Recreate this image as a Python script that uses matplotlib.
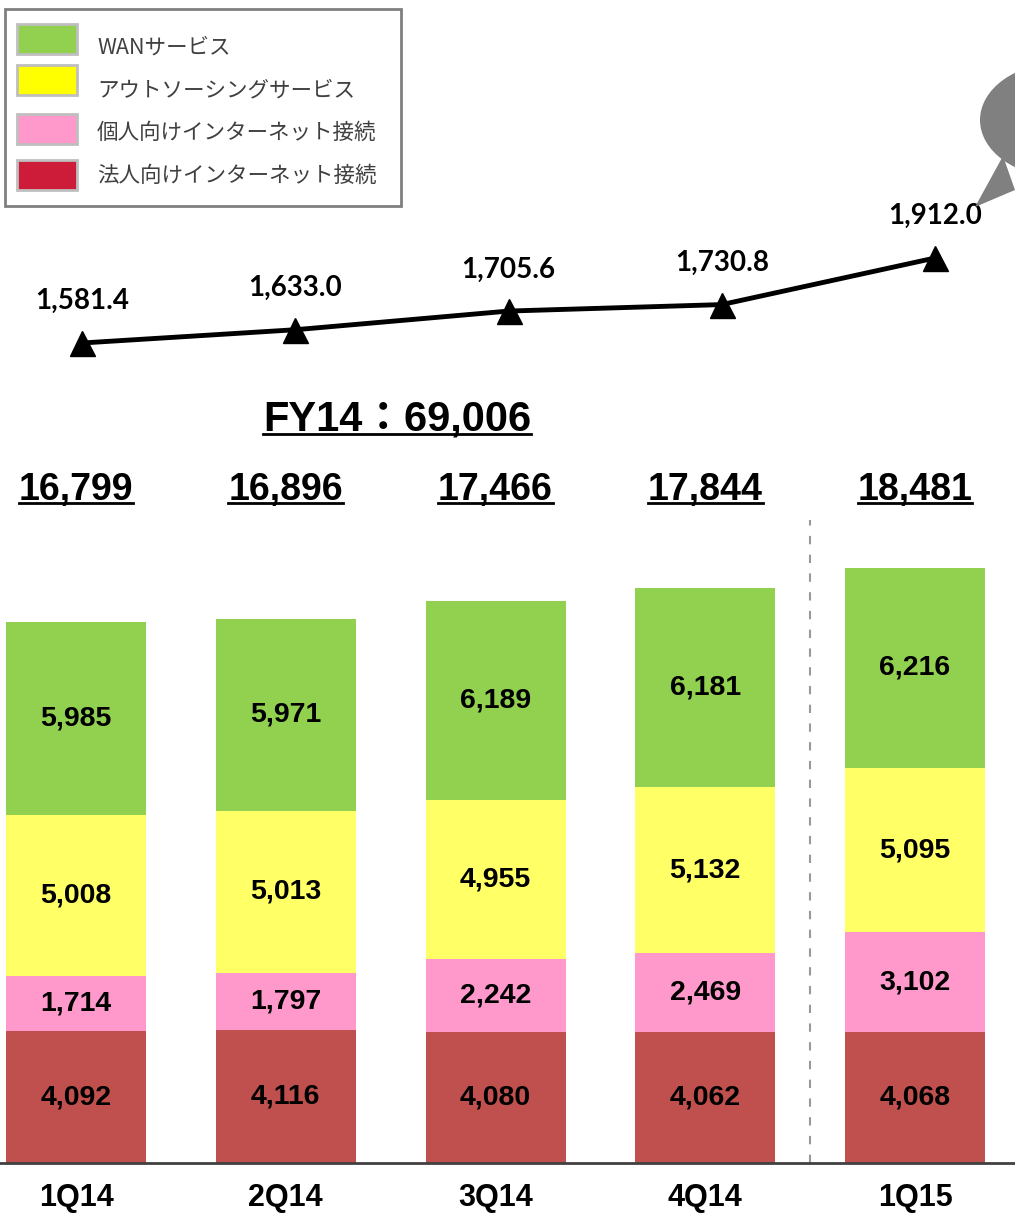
import matplotlib
matplotlib.use("Agg")
import matplotlib.pyplot as plt
from matplotlib.patches import Ellipse, Polygon, Rectangle
from matplotlib.lines import Line2D
import numpy as np

W_PX, H_PX = 1015, 1213

# ---- data ----
quarters    = ["1Q14", "2Q14", "3Q14", "4Q14", "1Q15"]
corp_net    = [4092, 4116, 4080, 4062, 4068]    # 法人向けインターネット接続
pers_net    = [1714, 1797, 2242, 2469, 3102]    # 個人向けインターネット接続
outsourcing = [5008, 5013, 4955, 5132, 5095]    # アウトソーシングサービス
wan         = [5985, 5971, 6189, 6181, 6216]    # WANサービス
totals      = [16799, 16896, 17466, 17844, 18481]
line_vals   = [1581.4, 1633.0, 1705.6, 1730.8, 1912.0]
fy_label    = "FY14：69,006"

series_names = ["WANサービス", "アウトソーシングサービス",
                "個人向けインターネット接続", "法人向けインターネット接続"]

_RED    = "#C0504D"
_PINK   = "#FF99CC"
_YELLOW = "#FFFF66"
_GREEN  = "#92D050"
_LEG_COLS = ["#92D050", "#FFFF00", "#FF99CC", "#CC1C39"]

NUM_FONT = ["Liberation Sans", "DejaVu Sans"]
JP_FONT  = ["Noto Sans CJK JP", "DejaVu Sans"]


def fx(px):
    return px / W_PX


def fy(py):
    return 1 - py / H_PX


fig = plt.figure(figsize=(W_PX / 100, H_PX / 100), dpi=100)

# ---- stacked bars ----
base_px = 1163
px_per_unit = 541 / 16799
ax = fig.add_axes([0, fy(base_px), 1, base_px / H_PX])
ax.set_axis_off()
step = 209.75
ax.set_xlim(-76 / step, 4 + (W_PX - 915) / step)
ax.set_ylim(0, base_px / px_per_unit)

xs = np.arange(len(quarters))
bw = 140 / step
bottom = np.zeros(len(quarters))
for vals, col in [(corp_net, _RED), (pers_net, _PINK),
                  (outsourcing, _YELLOW), (wan, _GREEN)]:
    vals = np.array(vals, dtype=float)
    ax.bar(xs, vals, bw, bottom=bottom, color=col, edgecolor="none", zorder=2)
    for x, b, v in zip(xs, bottom, vals):
        ax.text(x, b + v / 2, f"{int(v):,}", ha="center", va="center",
                fontsize=20.5, fontweight="bold", family=NUM_FONT, zorder=3)
    bottom += vals

ax.axhline(0, color="#404040", lw=2, clip_on=False, zorder=4)
ax.axvline(3.5, ymin=0, ymax=(base_px - 520) / base_px, color="#999999",
           lw=1.5, ls=(0, (4, 5)), zorder=1)

for x, q in zip(xs, quarters):
    ax.annotate(q, (x, 0), xytext=(0, -31), textcoords="offset points",
                ha="center", va="baseline", fontsize=22, fontweight="bold",
                family=NUM_FONT, annotation_clip=False)

underlined = []
for x, t in zip(xs, totals):
    txt = ax.text(x, (base_px - 500) / base_px, f"{t:,}",
                  transform=ax.get_xaxis_transform(), ha="center",
                  va="baseline", fontsize=27, fontweight="bold",
                  family=NUM_FONT)
    underlined.append(txt)

fy_txt = fig.text(fx(397), fy(431), fy_label, ha="center", va="baseline",
                  fontsize=30, fontweight="bold",
                  family=["Liberation Sans", "Noto Sans CJK JP"])
underlined.append(fy_txt)

# ---- line ----
top_h = 400
lax = fig.add_axes([0, fy(top_h), 1, top_h / H_PX])
lax.set_axis_off()
lstep = 213.25
lax.set_xlim(-82 / lstep, 4 + (W_PX - 935) / lstep)
lpx = 85 / (1912.0 - 1581.4)
ymin = 1581.4 - (top_h - 343) / lpx
lax.set_ylim(ymin, ymin + top_h / lpx)
lax.plot(xs, line_vals, color="black", lw=3.5, marker="^", ms=18,
         markeredgecolor="black", zorder=3)
for x, v in zip(xs, line_vals):
    lax.annotate(f"{v:,.1f}", (x, v), xytext=(0, 30), textcoords="offset points",
                 ha="center", va="center", fontsize=20, fontweight="bold",
                 family=["Lato", "DejaVu Sans"])

# ---- speech bubble (cropped, top right) ----
fig.add_artist(Ellipse((fx(1060), fy(120)), 160 / W_PX, 114 / H_PX,
                       transform=fig.transFigure, color="#808080", lw=0))
fig.add_artist(Polygon([(fx(1003), fy(156)), (fx(975), fy(207)), (fx(1015), fy(190))],
                       closed=True, transform=fig.transFigure,
                       color="#808080", lw=0))

# ---- legend (drawn by hand to match the boxed layout) ----
fig.add_artist(Rectangle((fx(5), fy(206)), 396 / W_PX, 197 / H_PX,
                         transform=fig.transFigure, facecolor="white",
                         edgecolor="#808080", lw=2))
swatch_tops = [24, 65, 114, 160]
text_mid    = [48, 90, 133, 176]
for name, col, top, tm in zip(series_names, _LEG_COLS, swatch_tops, text_mid):
    fig.add_artist(Rectangle((fx(17), fy(top + 30)), 60 / W_PX, 30 / H_PX,
                             transform=fig.transFigure, facecolor=col,
                             edgecolor="#BFBFBF", lw=2))
    fig.text(fx(97), fy(tm), name, ha="left", va="center", fontsize=15.5,
             color="#404040", family=JP_FONT)

# ---- underlines ----
fig.canvas.draw()
r = fig.canvas.get_renderer()
for t in underlined:
    bb = t.get_window_extent(r)
    base_y = t.get_transform().transform(t.get_position())[1]
    y = (base_y - 3) / H_PX
    fig.add_artist(Line2D([bb.x0 / W_PX, bb.x1 / W_PX], [y, y],
                          transform=fig.transFigure, color="black", lw=2))

fig.savefig("out.png", dpi=100)
